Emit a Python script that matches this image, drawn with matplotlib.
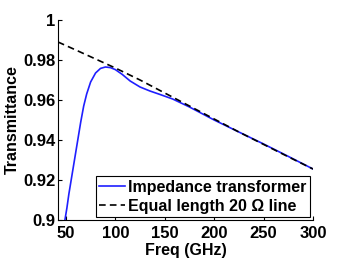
import matplotlib
matplotlib.use("Agg")
import matplotlib.pyplot as plt
import numpy as np

plt.rcParams.update({"font.family": ["Liberation Sans", "DejaVu Sans"], "font.weight": "bold",
                     "font.size": 11.5, "axes.linewidth": 0.8})

freq_tr = [49, 51, 53, 56, 59, 62, 65, 68, 71, 75, 80, 85, 90, 95, 100, 107, 115, 125,
           135, 145, 158, 175, 200, 225, 250, 275, 300]
trans_tr = [0.900, 0.906, 0.913, 0.922, 0.931, 0.940, 0.949, 0.957, 0.963, 0.969, 0.9735,
            0.9758, 0.9765, 0.9762, 0.9752, 0.9728, 0.9695, 0.9665, 0.9645, 0.9628, 0.9605,
            0.9565, 0.9500, 0.9440, 0.9380, 0.9318, 0.9255]

freq_eq = [42, 60, 80, 100, 125, 150, 175, 200, 225, 250, 275, 300]
trans_eq = [0.9890, 0.9850, 0.9805, 0.9760, 0.9700, 0.9635, 0.9570, 0.9505, 0.9440, 0.9378,
            0.9316, 0.9255]

fig = plt.figure(figsize=(3.46, 2.6), dpi=100)
ax = fig.add_axes([58 / 346, 40 / 260, 255 / 346, 200 / 260])
ax.plot(freq_tr, trans_tr, color="#1f1fff", lw=1.2, label="Impedance transformer")
ax.plot(freq_eq, trans_eq, color="black", lw=1.2, ls=(0, (4, 2.5)), label="Equal length 20 Ω line")

ax.set_xlim(42, 300)
ax.set_ylim(0.9, 1.0)
ax.set_xticks([50, 100, 150, 200, 250, 300])
ax.set_yticks([0.9, 0.92, 0.94, 0.96, 0.98, 1.0])
ax.set_yticklabels(["0.9", "0.92", "0.94", "0.96", "0.98", "1"])
ax.tick_params(direction="in", length=3, labelsize=12, pad=2)
ax.tick_params(axis="x", pad=4)
for s in ["top", "right"]:
    ax.spines[s].set_visible(False)
ax.set_xlabel("Freq (GHz)", fontweight="bold", fontsize=11.5, labelpad=2)
ax.set_ylabel("Transmittance", fontweight="bold", fontsize=11.5, labelpad=2)
leg = ax.legend(loc="lower right", fancybox=False, edgecolor="black", framealpha=1,
                fontsize=11.5, handlelength=1.6, handletextpad=0.2, borderpad=0.2,
                labelspacing=0.25, borderaxespad=0.2)
leg.get_frame().set_linewidth(0.8)

fig.savefig("out.png", dpi=100, facecolor="white")
